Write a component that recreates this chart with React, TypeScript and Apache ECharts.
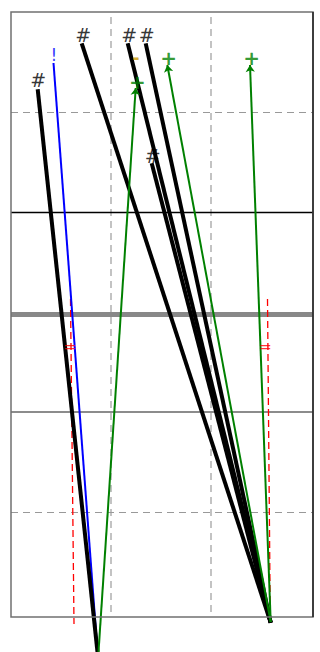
import React, { useEffect, useRef } from "react";
import * as echarts from "echarts";

// Black segments: [startX, startY, endX, endY]
const blackSegments: number[][] = [
  [0.267, 5.227, 0.865, -0.4],
  [0.707, 5.687, 2.597, -0.107],
  [1.167, 5.687, 2.597, -0.107],
  [1.347, 5.687, 2.597, -0.107],
  [1.407, 4.487, 2.597, -0.107],
];
const blueSegments: number[][] = [[0.425, 5.49, 0.865, -0.4]];
// Green arrows: from start to tip
const greenSegments: number[][] = [
  [0.875, -0.4, 1.247, 5.24],
  [2.597, -0.1, 1.563, 5.47],
  [2.597, -0.1, 2.39, 5.47],
];
const redSegments: number[][] = [
  [0.595, 3.13, 0.63, -0.12],
  [2.565, 3.13, 2.593, -0.1],
];
// Text markers: [x, y]
const hashPoints: number[][] = [
  [0.273, 5.32],
  [0.723, 5.77],
  [1.183, 5.77],
  [1.357, 5.77],
  [1.417, 4.56],
];
const plusPoints: number[][] = [
  [1.263, 5.303],
  [1.577, 5.543],
  [2.407, 5.543],
];
const bangPoints: number[][] = [[0.43, 5.57]];
const dashPoints: number[][] = [[1.25, 5.54]];
const equalPoints: number[][] = [
  [0.59, 2.66],
  [2.543, 2.653],
];
const vLineDashed: number[] = [1, 2];
const hLineDashed: number[] = [1, 5];
const hLineBlack: number[] = [4];
const hLineThick: number[] = [2.98];
const hLineGray: number[] = [2];

const FONT = "DejaVu Sans";

function segSeries(segs: number[][], color: string, width: number, z: number, extra: any = {}) {
  return {
    type: "lines",
    coordinateSystem: "cartesian2d",
    clip: false,
    silent: true,
    polyline: false,
    symbol: ["none", "none"],
    lineStyle: { color, width, opacity: 1, ...(extra.lineStyle || {}) },
    data: segs.map((s) => ({ coords: [[s[0], s[1]], [s[2], s[3]]] })),
    z,
    ...(extra.symbol ? { symbol: extra.symbol, symbolSize: extra.symbolSize } : {}),
  };
}

function textSeries(points: number[][], char: string, color: string, fontSize: number, fontWeight = "normal") {
  return {
    type: "scatter",
    clip: false,
    silent: true,
    symbolSize: 0,
    z: 20,
    data: points.map((p) => ({ value: p })),
    label: {
      show: true,
      position: "inside",
      formatter: char,
      color,
      fontSize,
      fontWeight,
      fontFamily: FONT,
    },
  };
}

function refLines(axis: "xAxis" | "yAxis", vals: number[], color: string, width: number, type: any) {
  return {
    type: "line",
    data: [],
    silent: true,
    z: 1,
    markLine: {
      silent: true,
      z: 1,
      symbol: ["none", "none"],
      label: { show: false },
      lineStyle: { color, width, type },
      data: vals.map((v) => ({ [axis]: v })),
    },
  };
}

export default function App() {
  const ref = useRef<HTMLDivElement>(null);
  useEffect(() => {
    if (!ref.current) return;
    const chart = echarts.init(ref.current, null, { renderer: "svg" });
    chart.setOption({
      animation: false,
      backgroundColor: "#ffffff",
      grid: { left: 11, top: 12, width: 302, height: 600 },
      xAxis: {
        type: "value",
        min: 0,
        max: 3.02,
        axisLine: { show: false },
        axisTick: { show: false },
        axisLabel: { show: false },
        splitLine: { show: false },
      },
      yAxis: {
        type: "value",
        min: 0,
        max: 6,
        interval: 1,
        axisLine: { show: false },
        axisTick: { show: false },
        axisLabel: { show: false },
        splitLine: { show: false },
      },
      graphic: [
        {
          type: "rect",
          shape: { x: 11, y: 12, width: 302, height: 605 },
          style: { fill: "none", stroke: "#707070", lineWidth: 1.5 },
          silent: true,
          z: 30,
        },
        {
          type: "line",
          shape: { x1: 313, y1: 12, x2: 313, y2: 617 },
          style: { stroke: "#222222", lineWidth: 1.5 },
          silent: true,
          z: 31,
        },
      ],
      series: [
        refLines("xAxis", vLineDashed, "#b0b0b0", 1.5, [7, 5]),
        refLines("yAxis", hLineDashed, "#999999", 1.2, [7, 5]),
        refLines("yAxis", hLineBlack, "#000000", 1.3, "solid"),
        refLines("yAxis", hLineThick, "#888888", 5, "solid"),
        refLines("yAxis", hLineGray, "#666666", 1.5, "solid"),
        segSeries(redSegments, "#ff0000", 1.3, 10, { lineStyle: { type: [7, 4] } }),
        segSeries(blueSegments, "#0000ff", 2, 11),
        segSeries(blackSegments, "#000000", 4, 12),
        segSeries(greenSegments, "#008000", 2, 13, { symbol: ["none", "arrow"], symbolSize: 7 }),
        textSeries(hashPoints, "#", "#000000", 19),
        textSeries(plusPoints, "+", "#008000", 20, "bold"),
        textSeries(bangPoints, "!", "#0000ff", 17),
        textSeries(dashPoints, "-", "#cc9900", 17, "bold"),
        textSeries(equalPoints, "=", "#ff0000", 16),
      ],
    });
    return () => chart.dispose();
  }, []);
  return (
    <div
      ref={ref}
      style={{ position: "absolute", left: 0, top: 0, width: 320, height: 652 }}
    />
  );
}
